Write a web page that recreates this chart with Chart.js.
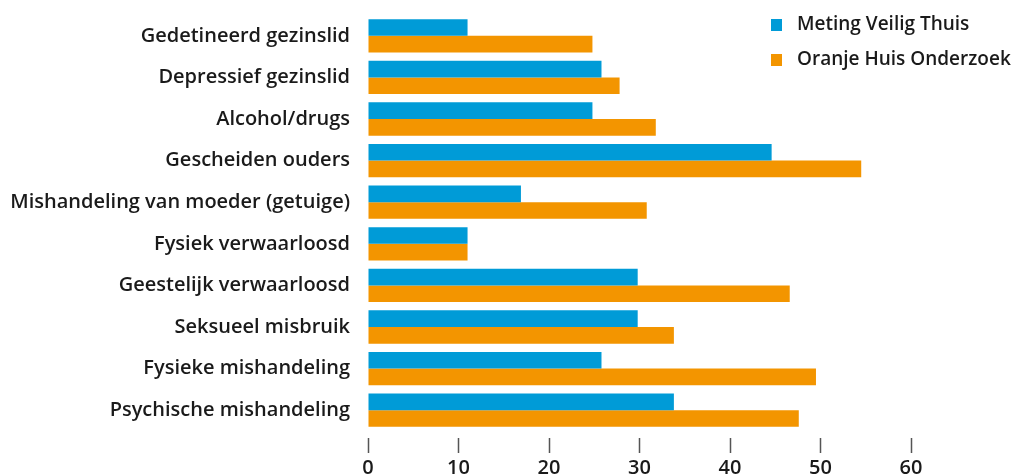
<!DOCTYPE html>
<html>
<head>
<meta charset="utf-8">
<script src="https://cdn.jsdelivr.net/npm/chart.js@4"></script>
<style>
  html, body { margin: 0; padding: 0; overflow: hidden; background: #fff; }
  #wrap { width: 1018px; height: 475px; overflow: hidden; }
</style>
</head>
<body>
<div id="wrap"><canvas id="myChart" width="1018" height="495"></canvas></div>
<script>
const categories = [
  'Gedetineerd gezinslid',
  'Depressief gezinslid',
  'Alcohol/drugs',
  'Gescheiden ouders',
  'Mishandeling van moeder (getuige)',
  'Fysiek verwaarloosd',
  'Geestelijk verwaarloosd',
  'Seksueel misbruik',
  'Fysieke mishandeling',
  'Psychische mishandeling'
];
const metingVeiligThuis = [11, 25.8, 24.8, 44.6, 16.9, 11, 29.8, 29.8, 25.8, 33.8];
const oranjeHuisOnderzoek = [24.8, 27.8, 31.8, 54.5, 30.8, 11, 46.6, 33.8, 49.5, 47.6];
const xTicks = [0, 10, 20, 30, 40, 50, 60];

const FONT = "'Open Sans', sans-serif";

// legend drawn top-right, over the chart area
const cornerLegend = {
  id: 'cornerLegend',
  afterDraw(chart) {
    const ctx = chart.ctx;
    ctx.save();
    ctx.font = '600 19px ' + FONT;
    ctx.textBaseline = 'middle';
    ctx.textAlign = 'left';
    chart.data.datasets.forEach((ds, i) => {
      const y = 25 + i * 35;
      ctx.fillStyle = ds.backgroundColor;
      ctx.fillRect(771, y - 6, 11, 12);
      ctx.fillStyle = '#1a1a1a';
      ctx.fillText(ds.label, 797, y);
    });
    ctx.restore();
  }
};

new Chart('myChart', {
  type: 'bar',
  data: {
    labels: categories,
    datasets: [{
      label: 'Meting Veilig Thuis',
      data: metingVeiligThuis,
      backgroundColor: '#009bd7'
    }, {
      label: 'Oranje Huis Onderzoek',
      data: oranjeHuisOnderzoek,
      backgroundColor: '#f39500'
    }]
  },
  options: {
    indexAxis: 'y',
    responsive: false,
    animation: false,
    layout: { padding: { top: 15, right: 107, left: 0, bottom: 0 } },
    datasets: { bar: { barPercentage: 1, categoryPercentage: 0.8 } },
    plugins: {
      legend: { display: false },
      tooltip: { enabled: false }
    },
    scales: {
      x: {
        min: 0,
        max: 60,
        afterBuildTicks(scale) { scale.ticks = xTicks.map(v => ({ value: v })); },
        afterFit(scale) { scale.height = 64; },
        border: { display: false },
        grid: {
          drawOnChartArea: false,
          drawTicks: true,
          tickLength: 22,
          tickWidth: 1.5,
          tickColor: '#555',
          tickBorderDash: [0, 7, 15, 50]
        },
        ticks: {
          padding: 3,
          color: '#1a1a1a',
          font: { family: FONT, size: 20, weight: '600' }
        }
      },
      y: {
        afterFit(scale) {
          scale.width = 368;
          scale.paddingTop = 0;
          scale.paddingBottom = 0;
        },
        border: { display: false },
        grid: { display: false, drawTicks: false },
        ticks: {
          padding: 18,
          color: '#1a1a1a',
          font: { family: FONT, size: 20, weight: '600' }
        }
      }
    }
  },
  plugins: [cornerLegend]
});
</script>
</body>
</html>
